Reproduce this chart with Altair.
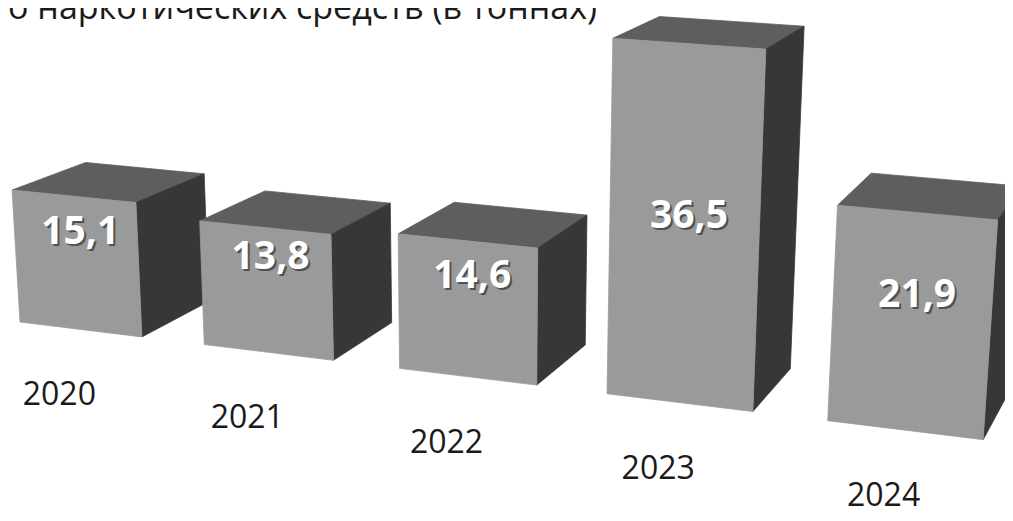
import altair as alt
import pandas as pd

# ---- data ----
years = ["2020", "2021", "2022", "2023", "2024"]
values = [15.1, 13.8, 14.6, 36.5, 21.9]
value_labels = ["15,1", "13,8", "14,6", "36,5", "21,9"]
title_text = "Изъято наркотических средств (в тоннах)"

# ---- 3D perspective layout (styling, not data) ----
ORIGIN = (20.0, 322.0)       # image of front-bottom-left corner of first bar
VP_X = (-6300.0, -450.0)     # vanishing point of the row direction
VP_Y = (483.0, 8000.0)       # vanishing point of vertical edges
VP_Z = (1400.0, -330.0)      # vanishing point of depth
W_X = -0.02833               # perspective weight per category slot
W_Y = -0.001119              # perspective weight per tonne
W_Z = 0.055                  # perspective weight for full bar depth
BAR_W = 0.668                # bar width in slots
FRONT, TOP, SIDE = "#9a9a9a", "#5e5e5e", "#373737"


def project(X, Y, Z):
    hx = ORIGIN[0] + W_X * X * VP_X[0] + W_Y * Y * VP_Y[0] + W_Z * Z * VP_Z[0]
    hy = ORIGIN[1] + W_X * X * VP_X[1] + W_Y * Y * VP_Y[1] + W_Z * Z * VP_Z[1]
    w = 1 + W_X * X + W_Y * Y + W_Z * Z
    return hx / w, hy / w


face_rows = []
for i, v in enumerate(values):
    x0, x1 = i, i + BAR_W
    corners = {
        "flb": (x0, 0, 0), "frb": (x1, 0, 0), "frt": (x1, v, 0), "flt": (x0, v, 0),
        "blt": (x0, v, 1), "brt": (x1, v, 1), "brb": (x1, 0, 1),
    }
    faces = [
        ("a_top", TOP, ["flt", "frt", "brt", "blt"]),
        ("b_side", SIDE, ["frb", "brb", "brt", "frt"]),
        ("c_front", FRONT, ["flb", "frb", "frt", "flt"]),
    ]
    for fname, col, pts in faces:
        seq = pts + [pts[0]]
        for k, p in enumerate(seq):
            px, py = project(*corners[p])
            face_rows.append({"face": f"b{i}_{fname}", "k": k, "px": px, "py": py, "col": col})
faces_df = pd.DataFrame(face_rows)

year_rows, val_rows = [], []
for i, (yr, v, lab) in enumerate(zip(years, values, value_labels)):
    fx, fy = project(i + BAR_W / 2, 0, 0)
    year_rows.append({"year": yr, "px": fx, "py": fy})
    lx, ly = project(i + BAR_W / 2, 5.3 + 0.385 * v, 0)
    val_rows.append({"label": lab, "px": lx, "py": ly})
years_df = pd.DataFrame(year_rows)
vals_df = pd.DataFrame(val_rows)

W, H = 997, 505
xs = alt.Scale(domain=[8, 8 + W], zero=False, nice=False)
ys = alt.Scale(domain=[8, 8 + H], zero=False, nice=False, reverse=True)

bars = alt.Chart(faces_df).mark_line(strokeWidth=0.8, strokeJoin="round").encode(
    x=alt.X("px:Q", scale=xs, axis=None),
    y=alt.Y("py:Q", scale=ys, axis=None),
    detail="face:N",
    order="k:Q",
    fill=alt.Fill("col:N", scale=None),
    stroke=alt.Stroke("col:N", scale=None),
)

shadow = alt.Chart(vals_df).mark_text(
    font="Open Sans", fontSize=39, fontWeight="bold", color="#333333",
    opacity=0.7, dx=7, dy=2, baseline="middle", align="center",
).encode(
    x=alt.X("px:Q", scale=xs, axis=None),
    y=alt.Y("py:Q", scale=ys, axis=None),
    text="label:N",
)
val_text = alt.Chart(vals_df).mark_text(
    font="Open Sans", fontSize=39, fontWeight="bold", color="white",
    dx=5, dy=0, baseline="middle", align="center",
).encode(
    x=alt.X("px:Q", scale=xs, axis=None),
    y=alt.Y("py:Q", scale=ys, axis=None),
    text="label:N",
)
year_text = alt.Chart(years_df).mark_text(
    font="Open Sans", fontSize=32, color="#1a1a1a",
    dx=-21, dy=76, baseline="alphabetic", align="center",
).encode(
    x=alt.X("px:Q", scale=xs, axis=None),
    y=alt.Y("py:Q", scale=ys, axis=None),
    text="year:N",
)
title = alt.Chart(pd.DataFrame({"t": [title_text]})).mark_text(
    font="Open Sans", fontSize=34, color="#1a1a1a", align="right", baseline="alphabetic",
).encode(
    x=alt.value(589), y=alt.value(11), text="t:N",
)

chart = alt.layer(bars, shadow, val_text, year_text, title).properties(
    width=W, height=H, padding=0,
    autosize=alt.AutoSizeParams(type="none"),
).configure_view(stroke=None)

chart.save("out.html", embed_options={"renderer": "svg", "actions": False})
